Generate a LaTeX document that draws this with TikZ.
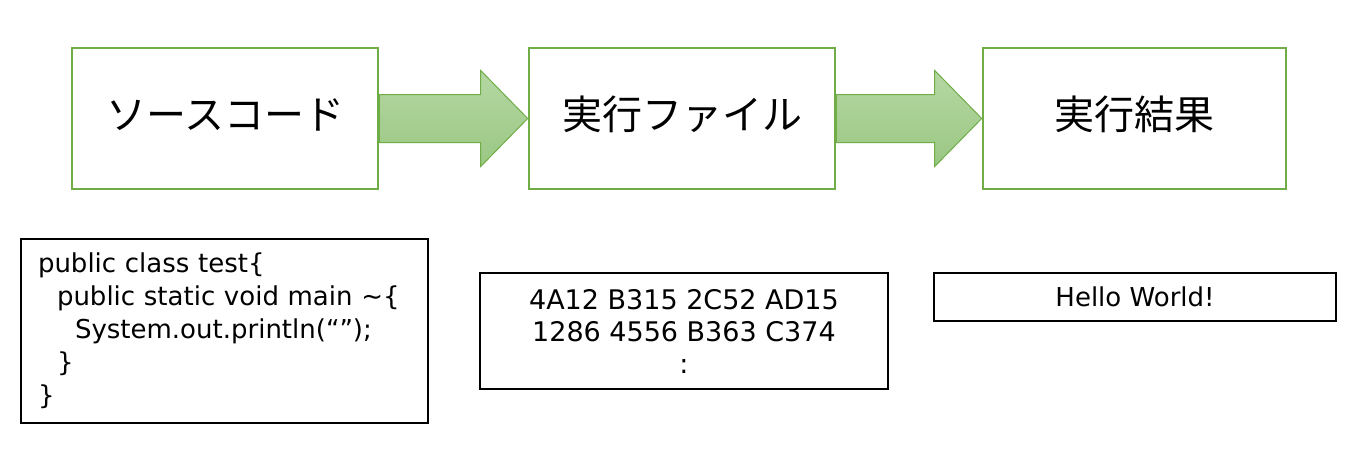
\documentclass[tikz,border=0pt]{standalone}
\usepackage{fontspec}
\setmainfont{DejaVu Sans}
\newfontfamily\jpfont{Noto Sans CJK JP}
\usetikzlibrary{calc,backgrounds}
\definecolor{grn}{HTML}{70AD47}
\definecolor{agtop}{HTML}{B5D7A3}
\definecolor{agbot}{HTML}{9AC783}
\tikzset{
  stagebox/.style={draw=grn, line width=2.6pt, fill=white, inner sep=0pt,
    minimum height=141pt, text height=33pt, text depth=12pt,
    font=\jpfont\fontsize{40}{48}\selectfont},
  plainbox/.style={draw=black, line width=2pt, fill=white, inner sep=0pt,
    font=\fontsize{26}{33}\selectfont},
  blockarrow/.style={draw=grn, line width=1pt, top color=agtop, bottom color=agbot}
}
\newcommand{\blockarrowpath}[2]{%
  \path[blockarrow] ($(#1.east)+(0,-24)$) -- ($(#2.west)+(-47,-24)$)
    -- ($(#2.west)+(-47,-48)$) -- (#2.west) -- ($(#2.west)+(-47,48)$)
    -- ($(#2.west)+(-47,24)$) -- ($(#1.east)+(0,24)$) -- cycle;}
\begin{document}
\begin{tikzpicture}[x=1pt,y=-1pt]
\useasboundingbox (0,0) rectangle (1356,460);
% top row
\node[stagebox, minimum width=306pt] (src) at (225,118.5) {ソースコード};
\node[stagebox, minimum width=306pt] (exe) at (682,118.5) {実行ファイル};
\node[stagebox, minimum width=303pt] (res) at (1134.5,118.5) {実行結果};
% bottom row
\node[plainbox, text width=373pt, inner xsep=17pt, minimum height=184pt, align=left] (code) at (224.5,331)
  {public class test\{\\
   \hspace*{19pt}public static void main \textasciitilde\{\\
   \hspace*{37pt}System.out.println(“”);\\
   \hspace*{19pt}\}\\
   \}};
\node[plainbox, minimum width=408pt, minimum height=116pt, align=center,
  font=\fontsize{27}{32}\selectfont] (hex) at (684,331)
  {4A12 B315 2C52 AD15\\1286 4556 B363 C374\\:};
\node[plainbox, minimum width=402pt, minimum height=48pt] (out) at (1135,297) {Hello World!};
% arrows
\begin{scope}[on background layer]
  \fill[white] (0,0) rectangle (1356,460);
  \blockarrowpath{src}{exe}
  \blockarrowpath{exe}{res}
\end{scope}
\end{tikzpicture}
\end{document}
